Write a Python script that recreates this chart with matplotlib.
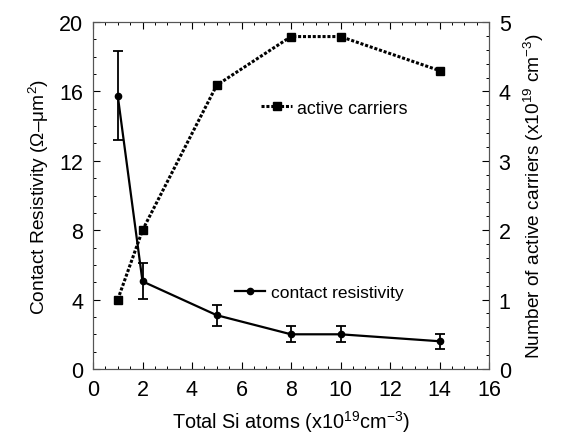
import matplotlib
matplotlib.use("Agg")
import matplotlib.pyplot as plt
from matplotlib.lines import Line2D
from matplotlib.ticker import MultipleLocator

plt.rcParams['font.family'] = ['Liberation Sans', 'DejaVu Sans']
plt.rcParams['mathtext.fontset'] = 'custom'
plt.rcParams['mathtext.rm'] = 'Liberation Sans'
plt.rcParams['mathtext.it'] = 'Liberation Sans'

si_atoms = [1, 2, 5, 8, 10, 14]
resistivity = [15.75, 5.05, 3.1, 2.0, 2.0, 1.6]
res_err_low = [2.55, 1.0, 0.65, 0.45, 0.45, 0.45]
res_err_high = [2.6, 1.05, 0.6, 0.45, 0.45, 0.42]
carriers = [1.0, 2.0, 4.09, 4.79, 4.79, 4.3]

fig = plt.figure(figsize=(5.64, 4.35), dpi=100)
ax = fig.add_axes([93/564, 1 - 370/435, 396/564, 347/435])
ax2 = ax.twinx()

ax.errorbar(si_atoms, resistivity, yerr=[res_err_low, res_err_high], color='black',
            lw=1.6, marker='o', ms=4.5, capsize=3.5, elinewidth=1.3, capthick=1.3)
ax2.plot(si_atoms, carriers, color='black', ls=(0, (1, 0.6)), lw=2.2, marker='s', ms=5.5)

ax.set_xlim(0, 16)
ax.set_ylim(0, 20)
ax2.set_ylim(0, 5)
ax.xaxis.set_major_locator(MultipleLocator(2))
ax.xaxis.set_minor_locator(MultipleLocator(0.5))
ax.yaxis.set_major_locator(MultipleLocator(4))
ax.yaxis.set_minor_locator(MultipleLocator(1))
ax2.yaxis.set_major_locator(MultipleLocator(1))
ax2.yaxis.set_minor_locator(MultipleLocator(0.2))

ax.tick_params(axis='x', which='both', direction='in', top=True)
ax.tick_params(axis='y', which='both', direction='in', right=False)
ax2.tick_params(axis='y', which='both', direction='in')
for a in (ax, ax2):
    a.tick_params(which='major', length=5, width=0.8, labelsize=15.5, pad=7)
    a.tick_params(which='minor', length=2.5, width=0.7)
    for s in a.spines.values():
        s.set_linewidth(0.8)
        s.set_color('#555555')

ax.set_xlabel('Total Si atoms (x10$^{19}$cm$^{-3}$)', fontsize=14.3, labelpad=6)
ax.set_ylabel('Contact Resistivity ($\\Omega$\u2013$\\mu$m$^{2}$)', fontsize=13.8, labelpad=6)
ax2.set_ylabel('Number of active carriers (x10$^{19}$ cm$^{-3}$)', fontsize=13.8, labelpad=8)

# legends: plain line + marker handles, no error bars
res_handle = Line2D([], [], color='black', lw=1.6, marker='o', ms=4.5)
car_handle = Line2D([], [], color='black', ls=(0, (1, 0.6)), lw=2.2, marker='s', ms=5.5)
ax.legend([res_handle], ['contact resistivity'], loc='center left',
          bbox_to_anchor=(142/396, 1 - 270/347), frameon=False, fontsize=12.5,
          handlelength=1.75, handletextpad=0.3, borderaxespad=0, borderpad=0)
ax2.legend([car_handle], ['active carriers'], loc='center left',
           bbox_to_anchor=(168/396, 1 - 86/347), frameon=False, fontsize=12.8,
           handlelength=1.75, handletextpad=0.3, borderaxespad=0, borderpad=0)

fig.savefig('out.png', dpi=100)
